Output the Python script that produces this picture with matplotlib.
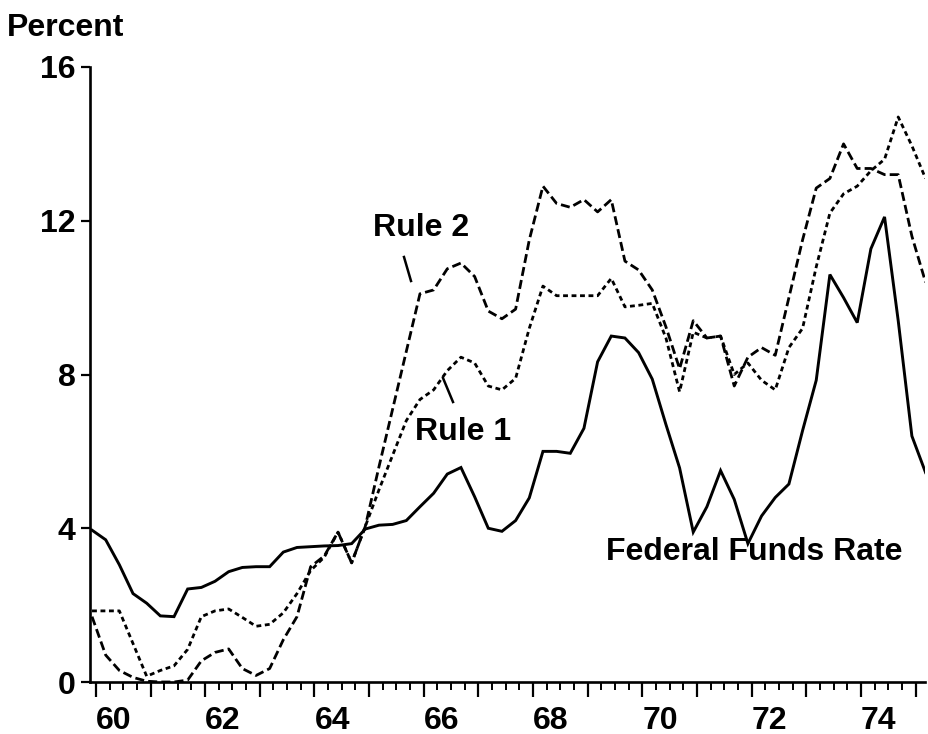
import numpy as np
import matplotlib
matplotlib.use("Agg")
import matplotlib.pyplot as plt
from matplotlib.lines import Line2D

# ---------------- data (quarterly, 1960Q1 .. 1975Q2) ----------------
start_year = 1960
n_quarters = 62

fed_funds = [
    3.95, 3.70, 3.05, 2.30,   # 1960
    2.05, 1.72, 1.70, 2.42,   # 1961
    2.46, 2.62, 2.87, 2.98,   # 1962
    3.00, 3.00, 3.38, 3.50,   # 1963
    3.52, 3.54, 3.55, 3.60,   # 1964
    3.98, 4.08, 4.10, 4.20,   # 1965
    4.56, 4.91, 5.41, 5.58,   # 1966
    4.82, 4.00, 3.92, 4.20,   # 1967
    4.79, 6.00, 6.00, 5.95,   # 1968
    6.60, 8.33, 9.00, 8.95,   # 1969
    8.57, 7.88, 6.70, 5.57,   # 1970
    3.90, 4.56, 5.50, 4.75,   # 1971
    3.60, 4.32, 4.80, 5.15,   # 1972
    6.54, 7.85, 10.60, 10.00, # 1973
    9.35, 11.27, 12.10, 9.40, # 1974
    6.40, 5.45,               # 1975
]

rule1 = [
    1.85, 1.85, 1.85, 1.00,
    0.15, 0.30, 0.42, 0.85,
    1.70, 1.85, 1.90, 1.68,
    1.45, 1.50, 1.80, 2.30,
    2.90, 3.25, 3.90, 3.10,
    4.05, 5.00, 5.90, 6.80,
    7.35, 7.60, 8.10, 8.45,
    8.30, 7.70, 7.60, 7.90,
    9.20, 10.30, 10.05, 10.05,
    10.05, 10.05, 10.50, 9.76,
    9.80, 9.85, 8.95, 7.55,
    9.10, 8.95, 9.00, 8.00,
    8.30, 7.85, 7.60, 8.70,
    9.20, 10.80, 12.20, 12.70,
    12.90, 13.30, 13.60, 14.70,
    13.95, 13.10,
]

rule2 = [
    1.70, 0.70, 0.30, 0.12,
    0.02, 0.00, 0.00, 0.05,
    0.55, 0.77, 0.86, 0.35,
    0.17, 0.35, 1.10, 1.70,
    3.00, 3.28, 3.90, 3.10,
    4.05, 5.60, 7.10, 8.60,
    10.10, 10.20, 10.75, 10.90,
    10.55, 9.65, 9.45, 9.70,
    11.50, 12.90, 12.45, 12.35,
    12.55, 12.23, 12.55, 10.95,
    10.72, 10.20, 9.24, 8.15,
    9.40, 8.95, 9.00, 7.70,
    8.45, 8.70, 8.50, 10.00,
    11.50, 12.85, 13.10, 14.00,
    13.36, 13.36, 13.20, 13.20,
    11.60, 10.40,
]

y_ticks = [0, 4, 8, 12, 16]
year_ticks = list(range(1960, 1976))
year_labels = ["60", "", "62", "", "64", "", "66", "", "68", "", "70", "", "72", "", "74", ""]

t = start_year + np.arange(n_quarters) * 0.25

# ---------------- figure ----------------
plt.rcParams["lines.scale_dashes"] = False
FONT = dict(family="Liberation Sans", weight="bold", size=23)

W, H = 929, 734
fig = plt.figure(figsize=(W / 100, H / 100), dpi=100)
ax = fig.add_axes([90 / W, 1 - 682 / H, (925 - 90) / W, (682 - 67) / H])

ax.plot(t, fed_funds, color="black", lw=2.1, solid_joinstyle="miter")
ax.plot(t, rule2, color="black", lw=2.0, dashes=(6.5, 3.0))
ax.plot(t, rule1, color="black", lw=2.0, dashes=(3.5, 2.6))

ax.set_xlim(1959.963, 1975.24)
ax.set_ylim(0, 16)

for s in ("top", "right"):
    ax.spines[s].set_visible(False)
for s in ("left", "bottom"):
    ax.spines[s].set_linewidth(1.9)

ax.set_yticks(y_ticks)
ax.set_yticklabels([str(v) for v in y_ticks], fontdict=FONT)
ax.tick_params(axis="y", direction="out", length=6.5, width=1.6, pad=4)

offset = 0.07
ax.set_xticks([y + offset for y in year_ticks])
ax.set_xticklabels(year_labels, fontdict=FONT)
ax.set_xticks([y + offset + q * 0.25 for y in year_ticks[:-1] for q in (1, 2, 3)], minor=True)
ax.tick_params(axis="x", which="major", direction="out", length=11, width=1.6, pad=6)
ax.tick_params(axis="x", which="minor", direction="out", length=6, width=1.4)
for lab in ax.get_xticklabels():
    lab.set_ha("left")

# ---------------- annotations ----------------
def fx(px):
    return px / W

def fy(py):
    return 1 - py / H

fig.text(fx(7), fy(28), "Percent", ha="left", va="center", **FONT)
fig.text(fx(373), fy(228), "Rule 2", ha="left", va="center", **FONT)
fig.text(fx(415), fy(432), "Rule 1", ha="left", va="center", **FONT)
fig.text(fx(606), fy(552), "Federal Funds Rate", ha="left", va="center", **FONT)

fig.add_artist(Line2D([fx(404), fx(411)], [fy(257), fy(281)], color="black", lw=1.8))
fig.add_artist(Line2D([fx(443), fx(453)], [fy(378), fy(402)], color="black", lw=1.8))

fig.savefig("out.png", dpi=100)
